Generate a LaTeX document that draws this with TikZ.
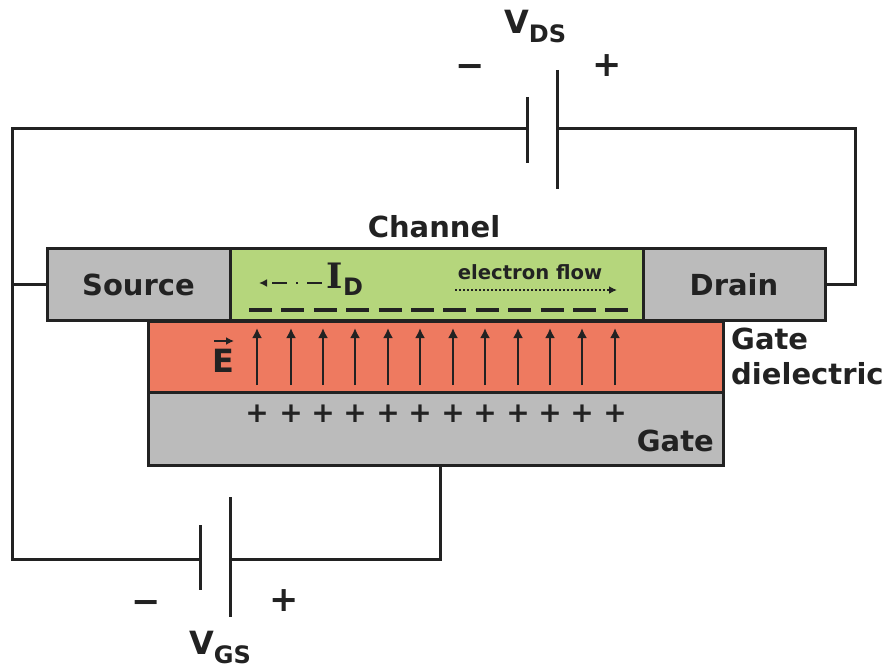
\documentclass[tikz,border=0pt]{standalone}
\usepackage{amsmath, amssymb, amsthm}
\usepackage{fontspec}
\setmainfont{DejaVu Sans}
\newfontfamily\serifbold{DejaVu Serif}
\usetikzlibrary{arrows.meta}
\definecolor{layergray}{HTML}{BBBBBB}
\definecolor{channelgreen}{HTML}{B5D67C}
\definecolor{dielectricred}{HTML}{EE7A60}
\definecolor{inkblack}{HTML}{222222}
\newcommand{\lowindex}[2]{\raisebox{-#1pt}{\fontsize{24}{24}\selectfont #2}}
\tikzset{
  layer/.style={draw=inkblack, line width=3pt, inner sep=0pt},
  wire/.style={draw=inkblack, line width=3pt},
  label/.style={inner sep=0pt, text=inkblack, font=\bfseries\fontsize{29}{29}\selectfont},
  sign/.style={inner sep=0pt, text=inkblack, font=\bfseries\fontsize{35}{35}\selectfont},
  charge/.style={inner sep=0pt, text=inkblack, font=\bfseries\fontsize{28}{28}\selectfont},
}
\begin{document}
\begin{tikzpicture}[x=1pt, y=-1pt]
  \useasboundingbox (0, 0) rectangle (885, 668);
  \node[layer, fill=layergray, minimum width=183pt, minimum height=72pt] (source) at (138.5, 284){};
  \node[layer, fill=channelgreen, minimum width=413pt, minimum height=72pt] (channel) at (436.5, 284){};
  \node[layer, fill=layergray, minimum width=182pt, minimum height=72pt] (drain) at (734, 284){};
  \node[layer, fill=dielectricred, minimum width=575pt, minimum height=71pt] (dielectric) at (435.5, 356.5){};
  \node[layer, fill=layergray, minimum width=575pt, minimum height=73pt] (gate) at (435.5, 428.5){};

  \node[label] (sourcetext) at (138.5, 285){Source};
  \node[label] (draintext) at (734, 285){Drain};
  \node[label] (channeltext) at (434, 227){Channel};
  \node[label, anchor=west] (gatetext1) at (731, 339){Gate};
  \node[label, anchor=west] (gatetext2) at (731, 374){dielectric};
  \node[label, anchor=east] (gatetext3) at (714, 441){Gate};

  \coordinate (corner1) at (12, 129);
  \coordinate (corner2) at (12, 559);
  \coordinate (corner3) at (855, 129);
  \coordinate (corner4) at (440, 559);
  \coordinate (ds1) at (527, 129);
  \coordinate (ds2) at (557, 129);
  \coordinate (gs1) at (200, 559);
  \coordinate (gs2) at (230, 559);

  \draw[wire] (ds1) -- (corner1) -- (corner2) -- (gs1);
  \draw[wire] (corner1 |- source.west) -- (source.west);
  \draw[wire] (ds2) -- (corner3) -- (corner3 |- drain.east) -- (drain.east);
  \draw[wire] (gs2) -- (corner4) -- (corner4 |- gate.south);
  \draw[wire] (527, 97) -- (527, 163);
  \draw[wire] (557, 70) -- (557, 189);
  \draw[wire] (200, 525) -- (200, 590);
  \draw[wire] (230, 497) -- (230, 617);

  \node[sign] (dsminus) at (470, 71){−};
  \node[sign] (dsplus) at (607, 66){+};
  \node[sign] (gsminus) at (146, 607){−};
  \node[sign] (gsplus) at (284, 601){+};
  \node[label, anchor=base west, font=\bfseries\fontsize{32}{32}\selectfont] (vds) at (504, 34){V\lowindex{9}{DS}};
  \node[label, anchor=base west, font=\bfseries\fontsize{32}{32}\selectfont] (vgs) at (189, 654){V\lowindex{9}{GS}};

  \node[inner sep=0pt, text=inkblack, font=\serifbold\bfseries\fontsize{35}{35}\selectfont] (idtext) at (335, 276){I};
  \node[label, font=\bfseries\fontsize{24}{24}\selectfont] (idsub) at (353, 287){D};
  \node[inner sep=0pt, text=inkblack, font=\bfseries\fontsize{19.6}{19.6}\selectfont] (flowtext) at (530, 272){electron flow};
  \coordinate (idstart) at (322, 283);
  \coordinate (idend) at (259, 283);
  \coordinate (flowstart) at (455, 290);
  \coordinate (flowend) at (617, 290);
  \draw[-{Latex[length=8pt, width=8pt]}, draw=inkblack, line width=2.2pt, dash pattern=on 15pt off 9pt on 2.5pt off 9pt] (idstart) -- (idend);
  \draw[-{Latex[length=8pt, width=8pt]}, draw=inkblack, line width=2.2pt, dash pattern=on 2pt off 2pt] (flowstart) -- (flowend);
  \draw[draw=inkblack, line width=3.4pt, dash pattern=on 23pt off 9.4pt] (249, 310) -- (628, 310);

  \node[label, font=\bfseries\fontsize{32}{32}\selectfont] (etext) at (223, 361){E};
  \draw[-{Latex[length=8pt, width=8pt]}, draw=inkblack, line width=2.2pt] (214, 341) -- (234, 341);
  \foreach \n/\xpos in {1/257, 2/291, 3/323, 4/355, 5/388, 6/420, 7/453, 8/485, 9/518, 10/550, 11/582, 12/615}{
    \draw[-{Latex[length=10pt, width=10pt]}, draw=inkblack, line width=2.6pt] (\xpos, 385) -- (\xpos, 328);
    \node[charge] (plus\n) at (\xpos, 414){+};
  }
\end{tikzpicture}
\end{document}
